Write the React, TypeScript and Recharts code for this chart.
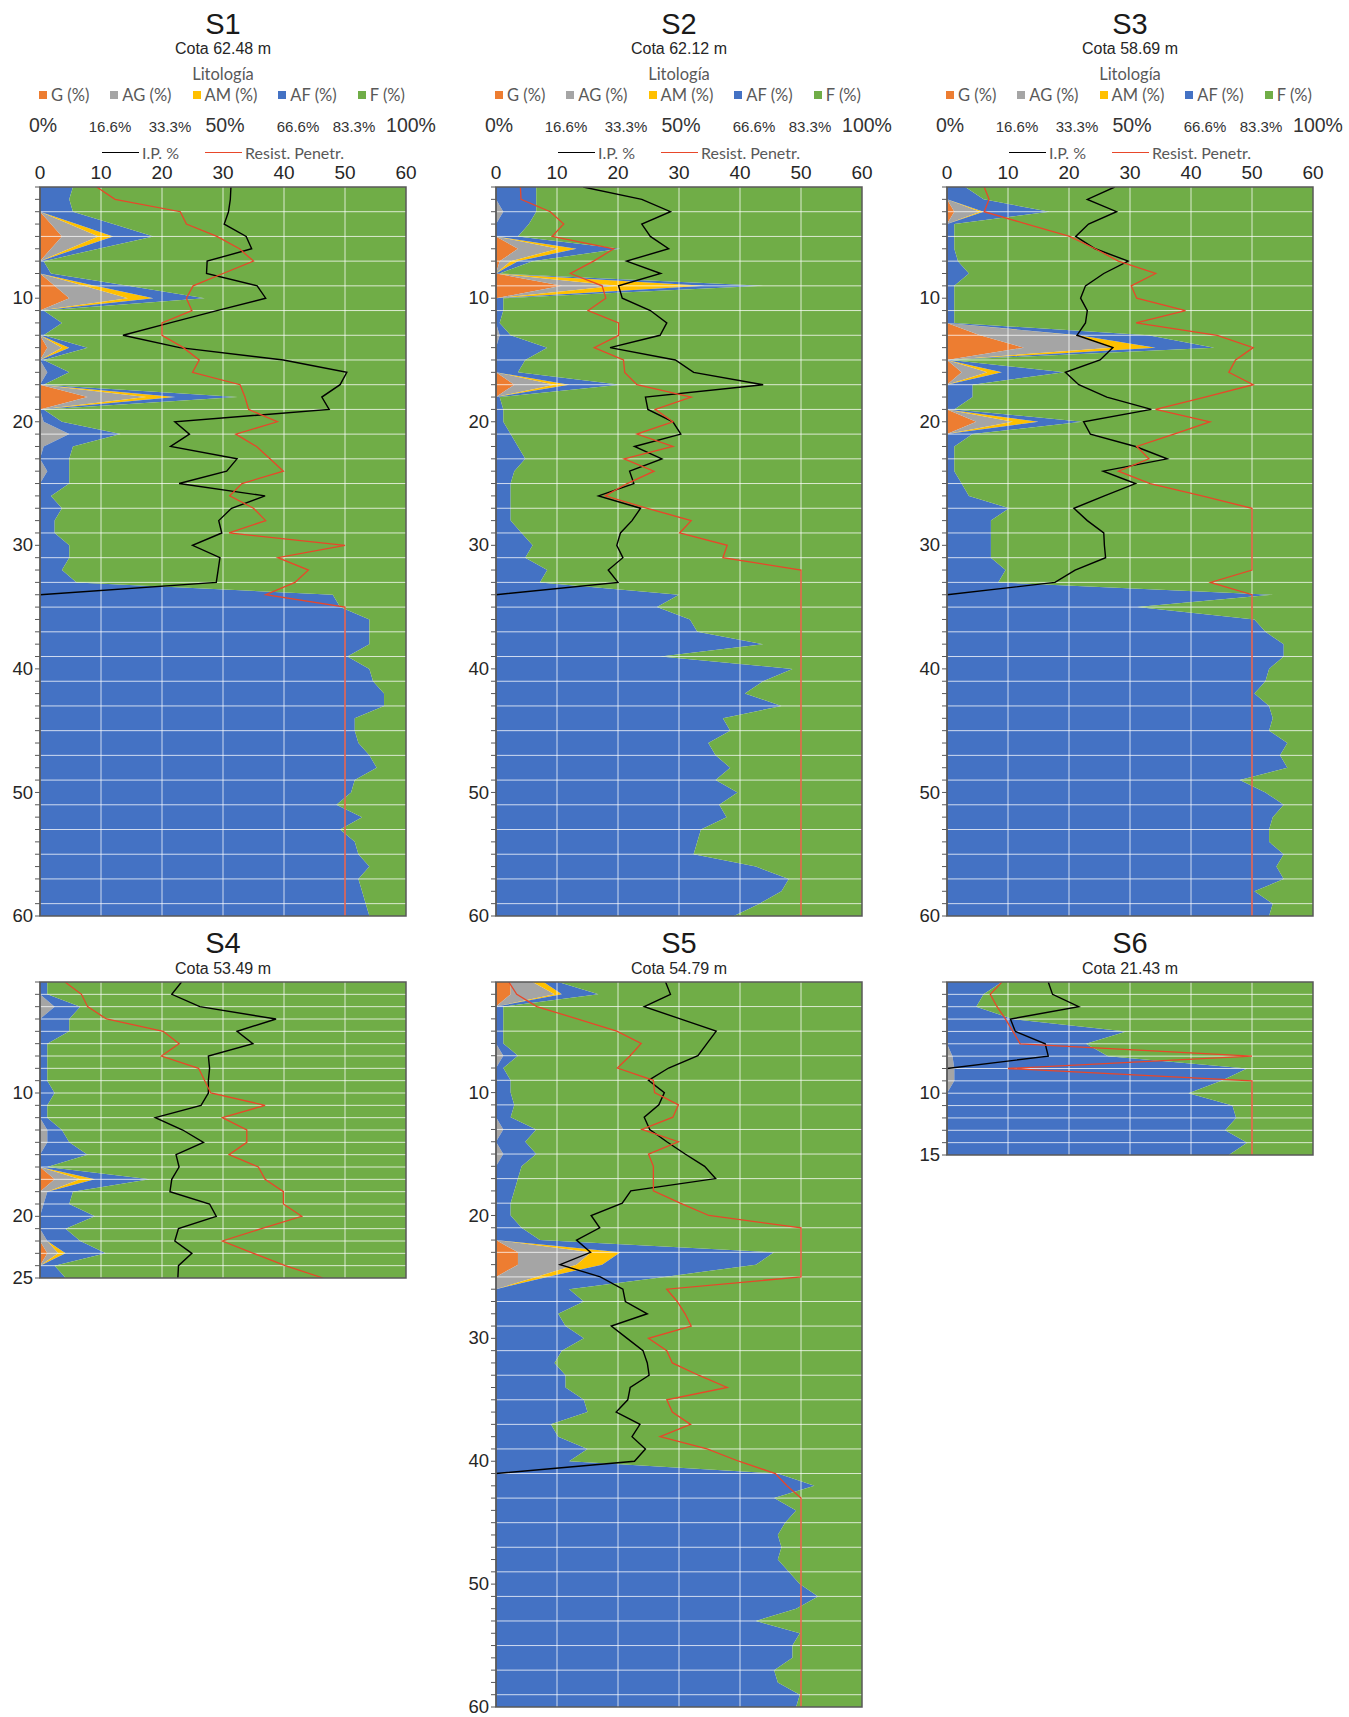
import React from 'react';
import { ComposedChart, Area, Line, XAxis, YAxis, CartesianGrid, ReferenceArea } from 'recharts';

const FONT_ARIAL = '"Liberation Sans", Arial, sans-serif';
const FONT_CAL = 'Lato, "Open Sans", sans-serif';

const COLOR_G = '#ED7D31';
const COLOR_AG = '#A5A5A5';
const COLOR_AM = '#FFC000';
const COLOR_AF = '#4472C4';
const COLOR_F = '#70AD47';
const COLOR_IP = '#000000';
const COLOR_RP = '#E8472A';

// Legend labels
const lithoLabels = ['G (%)', 'AG (%)', 'AM (%)', 'AF (%)', 'F (%)'];
const lithoColors = [COLOR_G, COLOR_AG, COLOR_AM, COLOR_AF, COLOR_F];
const lineLabels = ['I.P. %', 'Resist. Penetr.'];

// Top axis ticks (value scale 0-60 and the matching percentage scale)
const valTicks = [0, 10, 20, 30, 40, 50, 60];
const pctTickLabels = ['0%', '16.6%', '33.3%', '50%', '66.6%', '83.3%', '100%'];
const pctLabelBig = [true, false, false, true, false, false, true];
const pctLabelDx = [3, 9, 8, 2, 14, 9, 5];

// ---------------- S1 ----------------
const s1Depths = [10, 20, 30, 40, 50, 60];
const s1G = [0,0,0,3,6,3,0,0,4,8, 0,0,0,2,0,0,0,13,0,0, 0,0,0,0,0,0,0,0,0,0, 0,0,0,0,0,0,0,0,0,0, 0,0,0,0,0,0,0,0,0,0, 0,0,0,0,0,0,0,0,0,0];
const s1AG = [0,0,0,5,10,5,0,0,8,16, 0,0,0,4,0,2,0,16,0,1, 8,1,0,2,0,0,0,0,0,0, 0,0,0,0,0,0,0,0,0,0, 0,0,0,0,0,0,0,0,0,0, 0,0,0,0,0,0,0,0,0,0];
const s1AM = [0,0,0,2,4,2,0,0,3,7, 0,0,0,2,0,0,0,8,0,0, 0,0,0,0,0,0,0,0,0,0, 0,0,0,0,0,0,0,0,0,0, 0,0,0,0,0,0,0,0,0,0, 0,0,0,0,0,0,0,0,0,0];
const s1AF = [9,8,9,10,11,6,1,3,9,14, 1,6,1,5,1,6,1,17,1,5, 14,8,8,6,8,3,6,4,4,8, 8,6,10,80,82,90,90,90,84,90, 91,94,94,86,86,87,90,92,86,85, 81,88,82,86,87,90,87,88,89,90];
const s1F = [91,92,91,80,69,84,99,97,76,55, 99,94,99,87,99,92,99,46,99,94, 78,91,92,92,92,97,94,96,96,92, 92,94,90,20,18,10,10,10,16,10, 9,6,6,14,14,13,10,8,14,15, 19,12,18,14,13,10,13,12,11,10];
const s1IP = [31.3,31.2,30.9,30.2,33.8,34.7,27.4,27.3,35.6,37, 29,21.3,13.6,22.9,39.9,50.3,49.2,46.2,47.4,22.1, 24.5,21.4,32.3,30.6,22.8,36.9,31.4,29.3,29.8,25, 29.5,29.2,28.9,0];
const s1RP = [9.3,12.3,23,24,29,32.7,35,30,25.1,24, 24.9,20,20,23.5,26.1,25,32.8,33.6,34.2,38.9, 32.1,35.5,37.7,39.9,33.1,31.1,35,37,31,50, 39,44,41.8,37,50,50,50,50,50,50, 50,50,50,50,50,50,50,50,50,50, 50,50,50,50,50,50,50,50,50,50];

// ---------------- S2 ----------------
const s2Depths = [10, 20, 30, 40, 50, 60];
const s2G = [0,0,0,0,0,6,1,0,18,0, 0,0,0,0,0,0,5,0,0,0, 0,0,0,0,0,0,0,0,0,0, 0,0,0,0,0,0,0,0,0,0, 0,0,0,0,0,0,0,0,0,0, 0,0,0,0,0,0,0,0,0,0];
const s2AG = [0,0,2,0,0,11,3,0,15,0, 0,0,1,0,0,0,11,0,0,0, 0,0,0,0,0,0,0,0,0,0, 0,0,0,0,0,0,0,0,0,0, 0,0,0,0,0,0,0,0,0,0, 0,0,0,0,0,0,0,0,0,0];
const s2AM = [0,0,0,0,0,5,2,0,24,0, 0,0,0,0,0,0,4,0,0,0, 0,0,0,0,0,0,0,0,0,0, 0,0,0,0,0,0,0,0,0,0, 0,0,0,0,0,0,0,0,0,0, 0,0,0,0,0,0,0,0,0,0];
const s2AF = [11,11,9,9,6,12,4,1,16,2, 2,1,3,14,8,6,14,1,2,2, 4,6,8,5,4,4,4,4,7,10, 8,14,12,50,44,53,55,73,45,81, 73,68,78,62,64,58,60,64,60,66, 61,63,56,55,54,71,80,78,72,65];
const s2F = [89,89,89,91,94,66,90,99,27,98, 98,99,96,86,92,94,66,99,98,98, 96,94,92,95,96,96,96,96,93,90, 92,86,88,50,56,47,45,27,55,19, 27,32,22,38,36,42,40,36,40,34, 39,37,44,45,46,29,20,22,28,35];
const s2IP = [14.3,23.9,28.6,23.9,25.3,28.3,21.4,27,20.1,20.7, 25.3,28,26.9,18.7,29.4,32.4,43.8,24.5,24.9,29, 30.3,22.7,27.2,21.9,22.6,16.8,23.7,22.3,20.4,19.8, 20.8,18.4,20,0];
const s2RP = [4,4.1,8.9,11.1,9.2,19.3,16,12.2,17.4,18, 15.1,20.1,20.1,16.1,20.9,21.1,23.1,32,26.1,29, 23.1,29,21,25.9,21.5,17.9,24.8,32,30.1,37.9, 37.2,50,50,50,50,50,50,50,50,50, 50,50,50,50,50,50,50,50,50,50, 50,50,50,50,50,50,50,50,50,50];

// ---------------- S3 ----------------
const s3Depths = [10, 20, 30, 40, 50, 60];
const s3G = [0,0,2,0,0,0,0,0,0,0, 0,0,9,21,0,4,0,0,0,8, 0,0,0,0,0,0,0,0,0,0, 0,0,0,0,0,0,0,0,0,0, 0,0,0,0,0,0,0,0,0,0, 0,0,0,0,0,0,0,0,0,0];
const s3AG = [0,0,7,0,0,0,0,0,0,0, 0,0,26,24,0,7,0,0,0,10, 0,0,0,0,0,0,0,0,0,0, 0,0,0,0,0,0,0,0,0,0, 0,0,0,0,0,0,0,0,0,0, 0,0,0,0,0,0,0,0,0,0];
const s3AM = [0,0,1,0,0,0,0,0,0,0, 0,0,1,12,0,4,0,0,0,7, 0,0,0,0,0,0,0,0,0,0, 0,0,0,0,0,0,0,0,0,0, 0,0,0,0,0,0,0,0,0,0, 0,0,0,0,0,0,0,0,0,0];
const s3AF = [5,10,18,2,2,2,3,6,2,2, 2,2,19,16,1,17,7,7,2,12, 7,2,2,2,4,6,17,12,12,12, 12,16,14,89,52,84,87,92,92,88, 87,84,88,89,88,93,91,93,80,87, 92,89,88,88,92,90,92,84,89,88];
const s3F = [95,90,72,98,98,98,97,94,98,98, 98,98,45,27,99,68,93,93,98,63, 93,98,98,98,96,94,83,88,88,88, 88,84,86,11,48,16,13,8,8,12, 13,16,12,11,12,7,9,7,20,13, 8,11,12,12,8,10,8,16,11,12];
const s3IP = [27.5,23,27.8,23.2,21.1,24.3,29.7,25.7,22.7,21.9, 23,22.7,21.3,27.2,25.1,19.4,21.6,26.2,33.5,22.4, 23.5,30.9,36.1,25.6,30.9,25.8,20.8,23,25.7,25.8, 26,21,17.7,0];
const s3RP = [6.1,6.9,6.1,13.1,20.1,24.3,28.1,34.2,30.2,31.1, 39.1,31,44.3,50.2,47.3,46.2,50.2,42.3,34.2,43.1, 37.2,31.1,33.1,28.1,33.3,41.8,50,50,50,50, 50,50,43.2,50,50,50,50,50,50,50, 50,50,50,50,50,50,50,50,50,50, 50,50,50,50,50,50,50,50,50,50];

// ---------------- S4 ----------------
const s4Depths = [10, 20, 25];
const s4G = [0,0,0,0,0,0,0,0,0,0, 0,0,0,0,0,0,4,0,0,0, 0,0,2,0,0];
const s4AG = [0,0,4,0,0,0,0,0,0,0, 0,0,2,2,0,0,7,2,1,0, 0,2,3,0,0];
const s4AM = [0,0,0,0,0,0,0,0,0,0, 0,0,0,0,0,0,4,0,0,0, 0,0,2,0,0];
const s4AF = [2,2,7,8,8,2,2,2,2,4, 2,2,4,6,13,2,15,7,7,15, 7,9,11,4,7];
const s4F = [98,98,89,92,92,98,98,98,98,96, 98,98,94,92,87,98,70,91,92,85, 93,89,82,96,93];
const s4IP = [23.2,21.6,26.2,38.7,32.3,34.9,27.6,27.8,27.6,27.6, 26.4,18.9,23.4,26.8,22.3,22.8,21.6,21.3,27.8,28.9, 22.7,22.1,24.9,22.7,22.6];
const s4RP = [4.1,6.8,7.8,10.9,20.2,22.8,19.9,26,27,28, 36.9,29.9,33.9,33.9,31,35.8,36.9,39.9,39.9,42.9, 36.3,29.9,35,40.2,46.4];

// ---------------- S5 ----------------
const s5Depths = [10, 20, 30, 40, 50, 60];
const s5G = [4,4,0,0,0,0,0,0,0,0, 0,0,0,0,0,0,0,0,0,0, 0,0,6,6,0,0,0,0,0,0, 0,0,0,0,0,0,0,0,0,0, 0,0,0,0,0,0,0,0,0,0, 0,0,0,0,0,0,0,0,0,0];
const s5AG = [6,12,0,0,0,0,2,0,0,0, 0,0,2,0,2,0,0,0,0,0, 0,0,20,16,11,0,0,0,0,0, 0,0,0,0,0,0,0,0,0,0, 0,0,0,0,0,0,0,0,0,0, 0,0,0,0,0,0,0,0,0,0];
const s5AM = [3,2,0,0,0,0,0,0,0,0, 0,0,0,0,0,0,0,0,0,0, 0,0,8,7,3,0,0,0,0,0, 0,0,0,0,0,0,0,0,0,0, 0,0,0,0,0,0,0,0,0,0, 0,0,0,0,0,0,0,0,0,0];
const s5AF = [4,10,2,2,2,2,4,2,4,4, 5,4,9,8,9,7,6,5,4,4, 7,12,42,42,32,20,24,17,19,24, 18,16,19,19,24,25,15,17,25,20, 77,87,76,82,79,77,78,77,80,83, 88,82,71,83,81,81,76,77,83,82];
const s5F = [83,72,98,98,98,98,94,98,96,96, 95,96,89,92,89,93,94,95,96,96, 93,88,24,29,54,80,76,83,81,76, 82,84,81,81,76,75,85,83,75,80, 23,13,24,18,21,23,22,23,20,17, 12,18,29,17,19,19,24,23,17,18];
const s5IP = [27.8,28.6,24.3,30.2,36.1,34.6,33.1,28.3,25,27.6, 26.7,24.3,25.2,28,31,34.2,36,22.1,20.7,15.6, 17,13.2,15.5,10.5,17.1,20.8,21.2,24.8,18.9,21.5, 24.1,24.8,25.1,22,21.6,19.7,23.6,22.3,24.5,22.7, 0];
const s5RP = [2.1,3.4,6.7,13.3,19.8,23.8,22,19.9,25.8,26, 29.9,29,23.9,29.9,25,25.8,25.8,25.8,30.2,34.9, 50,50,50,50,50,28,29.7,31,32,25, 28,28.9,33.2,37.9,28,28.9,31.9,26.9,34.6,39.8, 45.8,47.7,50,50,50,50,50,50,50,50, 50,50,50,50,50,50,50,50,50,50];

// ---------------- S6 ----------------
const s6Depths = [10, 15];
const s6G = [0,0,0,0,0,0,0,0,0,0,0,0,0,0,0];
const s6AG = [0,0,0,0,0,0,1.5,2,2,0,0,0,0,0,0];
const s6AM = [0,0,0,0,0,0,0,0,0,0,0,0,0,0,0];
const s6AF = [15,10,8,18,49,38,42.5,80,73,66,78,79,76,82,77];
const s6F = [85,90,92,82,51,62,56,18,25,34,22,21,24,18,23];
const s6IP = [16.6,17.3,21.6,10.4,11.2,16.1,16.6,0];
const s6RP = [9,7.1,8.2,9.6,10.8,12,50,10,50,50,50,50,50,50,50];

type PanelDef = {
  title: string; cota: string; plotLeft: number; plotTop: number; maxDepth: number; pxPerM: number;
  depthLabels: number[]; showTop: boolean; gridEvery: number;
  G: number[]; AG: number[]; AM: number[]; AF: number[]; F: number[]; IP: number[]; RP: number[];
};

const panels: PanelDef[] = [
  { title: 'S1', cota: 'Cota 62.48 m', plotLeft: 40, plotTop: 187, maxDepth: 60, pxPerM: 12.35, depthLabels: s1Depths, showTop: true, gridEvery: 2, G: s1G, AG: s1AG, AM: s1AM, AF: s1AF, F: s1F, IP: s1IP, RP: s1RP },
  { title: 'S2', cota: 'Cota 62.12 m', plotLeft: 496, plotTop: 187, maxDepth: 60, pxPerM: 12.35, depthLabels: s2Depths, showTop: true, gridEvery: 2, G: s2G, AG: s2AG, AM: s2AM, AF: s2AF, F: s2F, IP: s2IP, RP: s2RP },
  { title: 'S3', cota: 'Cota 58.69 m', plotLeft: 947, plotTop: 187, maxDepth: 60, pxPerM: 12.35, depthLabels: s3Depths, showTop: true, gridEvery: 2, G: s3G, AG: s3AG, AM: s3AM, AF: s3AF, F: s3F, IP: s3IP, RP: s3RP },
  { title: 'S4', cota: 'Cota 53.49 m', plotLeft: 40, plotTop: 982, maxDepth: 25, pxPerM: 12.35, depthLabels: s4Depths, showTop: false, gridEvery: 1, G: s4G, AG: s4AG, AM: s4AM, AF: s4AF, F: s4F, IP: s4IP, RP: s4RP },
  { title: 'S5', cota: 'Cota 54.79 m', plotLeft: 496, plotTop: 981.5, maxDepth: 60, pxPerM: 12.28, depthLabels: s5Depths, showTop: false, gridEvery: 2, G: s5G, AG: s5AG, AM: s5AM, AF: s5AF, F: s5F, IP: s5IP, RP: s5RP },
  { title: 'S6', cota: 'Cota 21.43 m', plotLeft: 947, plotTop: 982, maxDepth: 15, pxPerM: 12.35, depthLabels: s6Depths, showTop: false, gridEvery: 1, G: s6G, AG: s6AG, AM: s6AM, AF: s6AF, F: s6F, IP: s6IP, RP: s6RP },
];

const PLOT_W = 366;
const AXIS_W = 40;

const TopTick = (props: any) => {
  const { x, y, payload } = props;
  const i = valTicks.indexOf(payload.value);
  return (
    <g>
      <text x={x} y={y} textAnchor="middle" fontSize={19} fontFamily={FONT_ARIAL} fill="#262626">{payload.value}</text>
      {i >= 0 && (
        <text x={x + pctLabelDx[i]} y={y - 47} textAnchor="middle" fontSize={pctLabelBig[i] ? 19.5 : 15} fontFamily={FONT_ARIAL} fill="#333">{pctTickLabels[i]}</text>
      )}
    </g>
  );
};

const makeDepthTick = (labels: number[]) => (props: any) => {
  const { x, y, payload } = props;
  if (!labels.includes(payload.value)) return <g />;
  return (
    <text x={x} y={y} dy="0.33em" textAnchor="end" fontSize={18.5} fontFamily={FONT_ARIAL} fill="#262626">{payload.value}</text>
  );
};

function Panel({ p }: { p: PanelDef }) {
  const rightM = 34;
  const bottomM = 12;
  const topH = p.showTop ? 77 : 0;
  const mt = p.showTop ? 0 : 2;
  const plotH = Math.round((p.maxDepth - 1) * p.pxPerM);
  const width = AXIS_W + PLOT_W + rightM;
  const height = mt + topH + plotH + bottomM;
  const rows = p.G.map((_, i) => ({
    d: i + 1,
    G: p.G[i], AG: p.AG[i], AM: p.AM[i], AF: p.AF[i], F: p.F[i],
    IP: i < p.IP.length ? p.IP[i] : null,
    RP: i < p.RP.length ? p.RP[i] : null,
  }));
  const depthTicks = rows.map((r) => r.d);
  const gridVals = depthTicks.filter((d) => d > 1 && d < p.maxDepth && (p.gridEvery === 1 || d % 2 === 1));
  const DepthTick = makeDepthTick(p.depthLabels);
  return (
    <div style={{ position: 'absolute', left: p.plotLeft - AXIS_W, top: p.plotTop - topH - mt }}>
      <ComposedChart layout="vertical" width={width} height={height} data={rows}
        margin={{ top: mt, right: rightM, bottom: bottomM, left: 0 }}>
        <XAxis xAxisId="pct" type="number" domain={[0, 100]} hide allowDataOverflow />
        {p.showTop ? (
          <XAxis xAxisId="val" type="number" domain={[0, 60]} ticks={valTicks} interval={0}
            orientation="top" height={77} axisLine={false} tickLine={false} tickSize={0} tickMargin={8}
            tick={TopTick} allowDataOverflow />
        ) : (
          <XAxis xAxisId="val" type="number" domain={[0, 60]} hide allowDataOverflow />
        )}
        <YAxis yAxisId="d" type="number" dataKey="d" domain={[1, p.maxDepth]} ticks={depthTicks} interval={0}
          width={AXIS_W} tickSize={5} tickMargin={2} tick={DepthTick}
          tickLine={{ stroke: '#595959' }} axisLine={{ stroke: '#595959', strokeWidth: 1.2 }} allowDataOverflow />
        <Area xAxisId="pct" yAxisId="d" type="linear" dataKey="G" stackId="lit" fill={COLOR_G} fillOpacity={1} stroke="none" isAnimationActive={false} />
        <Area xAxisId="pct" yAxisId="d" type="linear" dataKey="AG" stackId="lit" fill={COLOR_AG} fillOpacity={1} stroke="none" isAnimationActive={false} />
        <Area xAxisId="pct" yAxisId="d" type="linear" dataKey="AM" stackId="lit" fill={COLOR_AM} fillOpacity={1} stroke="none" isAnimationActive={false} />
        <Area xAxisId="pct" yAxisId="d" type="linear" dataKey="AF" stackId="lit" fill={COLOR_AF} fillOpacity={1} stroke="none" isAnimationActive={false} />
        <Area xAxisId="pct" yAxisId="d" type="linear" dataKey="F" stackId="lit" fill={COLOR_F} fillOpacity={1} stroke="none" isAnimationActive={false} />
        <CartesianGrid xAxisId="val" yAxisId="d" horizontalValues={gridVals} verticalValues={[10, 20, 30, 40, 50]}
          stroke="#ffffff" strokeOpacity={0.75} strokeWidth={1} zIndex={200} />
        <Line xAxisId="val" yAxisId="d" type="linear" dataKey="IP" stroke={COLOR_IP} strokeWidth={1.4} dot={false} activeDot={false} isAnimationActive={false} />
        <Line xAxisId="val" yAxisId="d" type="linear" dataKey="RP" stroke={COLOR_RP} strokeWidth={1.3} dot={false} activeDot={false} isAnimationActive={false} />
        <ReferenceArea xAxisId="val" yAxisId="d" x1={0} x2={60} y1={1} y2={p.maxDepth}
          fill="none" fillOpacity={0} stroke="#595959" strokeWidth={1.5} strokeOpacity={1} ifOverflow="visible" zIndex={600} />
      </ComposedChart>
    </div>
  );
}

function Header({ p }: { p: PanelDef }) {
  const base: React.CSSProperties = {
    position: 'absolute', left: p.plotLeft, width: PLOT_W, textAlign: 'center',
    lineHeight: 1, whiteSpace: 'nowrap',
  };
  const titleTop = p.showTop ? 10 : 929;
  const cotaTop = p.showTop ? 40.5 : 960.5;
  return (
    <>
      <div style={{ ...base, top: titleTop, fontSize: 29, fontFamily: FONT_ARIAL, color: '#1a1a1a' }}>{p.title}</div>
      <div style={{ ...base, top: cotaTop, fontSize: 16, fontFamily: FONT_ARIAL, color: '#262626' }}>{p.cota}</div>
      {p.showTop && (
        <>
          <div style={{ ...base, top: 66, fontSize: 16.5, fontFamily: FONT_CAL, color: '#595959' }}>Litología</div>
          <div style={{ ...base, left: p.plotLeft - 1, top: 86.5, display: 'flex', justifyContent: 'space-between', alignItems: 'center', fontSize: 16.5, fontFamily: FONT_CAL, color: '#595959' }}>
            {lithoLabels.map((l, i) => (
              <span key={l} style={{ display: 'inline-flex', alignItems: 'center' }}>
                <span style={{ display: 'inline-block', width: 8, height: 8, background: lithoColors[i], marginRight: 4 }} />
                {l}
              </span>
            ))}
          </div>
          <div style={{ ...base, top: 144.5, display: 'flex', justifyContent: 'center', alignItems: 'center', gap: 26, fontSize: 16, fontFamily: FONT_CAL, color: '#595959' }}>
            {lineLabels.map((l, i) => (
              <span key={l} style={{ display: 'inline-flex', alignItems: 'center' }}>
                <span style={{ display: 'inline-block', width: 37, height: 1.6, background: i === 0 ? COLOR_IP : COLOR_RP, marginRight: 3 }} />
                {l}
              </span>
            ))}
          </div>
        </>
      )}
    </>
  );
}

export default function App() {
  return (
    <div style={{ position: 'absolute', left: 0, top: 0, width: 1349, height: 1717, background: '#ffffff', overflow: 'hidden' }}>
      {panels.map((p) => (
        <React.Fragment key={p.title}>
          <Header p={p} />
          <Panel p={p} />
        </React.Fragment>
      ))}
    </div>
  );
}
